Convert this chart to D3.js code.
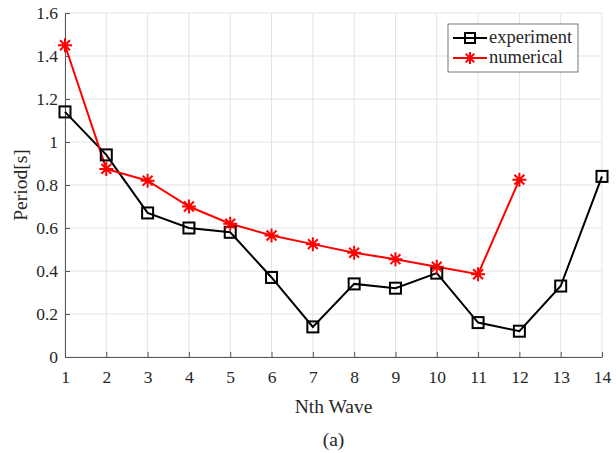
<!DOCTYPE html>
<html>
<head>
<meta charset="utf-8">
<script src="https://cdn.jsdelivr.net/npm/d3@7"></script>
<style>
  html, body { margin: 0; padding: 0; background: #fff; }
  svg text { font-family: "Liberation Serif", "Times New Roman", serif; fill: #262626; }
</style>
</head>
<body>
<svg id="chart" width="616" height="453"></svg>
<script>
// Wave index and measured / simulated periods
const waves = [1, 2, 3, 4, 5, 6, 7, 8, 9, 10, 11, 12, 13, 14];
const experiment = [1.14, 0.94, 0.67, 0.60, 0.58, 0.37, 0.14, 0.34, 0.32, 0.39, 0.16, 0.12, 0.33, 0.84];
const numerical = [1.45, 0.875, 0.82, 0.70, 0.62, 0.565, 0.525, 0.485, 0.455, 0.42, 0.385, 0.825];
const yTicks = [0, 0.2, 0.4, 0.6, 0.8, 1, 1.2, 1.4, 1.6];
const seriesNames = ["experiment", "numerical"];

const svg = d3.select("#chart");
const margin = { left: 65, right: 14, top: 13, bottom: 96 };
const W = 616, H = 453;
const x = d3.scaleLinear().domain([1, 14]).range([margin.left, W - margin.right]);
const y = d3.scaleLinear().domain([0, 1.6]).range([H - margin.bottom, margin.top]);

// grid
const grid = svg.append("g");
grid.selectAll("line.v").data(waves).join("line")
  .attr("x1", d => x(d)).attr("x2", d => x(d))
  .attr("y1", y(0)).attr("y2", y(1.6))
  .attr("stroke", "#e3e3e3").attr("stroke-width", 1);
grid.selectAll("line.h").data(yTicks).join("line")
  .attr("x1", x(1)).attr("x2", x(14))
  .attr("y1", d => y(d)).attr("y2", d => y(d))
  .attr("stroke", "#e3e3e3").attr("stroke-width", 1);

// axes
const xAxis = svg.append("g").attr("transform", `translate(0,${y(0)})`)
  .call(d3.axisBottom(x).tickValues(waves).tickFormat(d3.format("d")).tickSizeInner(-5).tickSizeOuter(0).tickPadding(14));
const yAxis = svg.append("g").attr("transform", `translate(${x(1)},0)`)
  .call(d3.axisLeft(y).tickValues(yTicks).tickFormat(d => String(d)).tickSizeInner(-5).tickSizeOuter(0).tickPadding(7));
[xAxis, yAxis].forEach(a => {
  a.select(".domain").attr("stroke", "#555").attr("stroke-width", 1);
  a.selectAll(".tick line").attr("stroke", "#555");
  a.selectAll(".tick text").attr("font-size", 17.5).attr("fill", "#262626")
    .style("font-family", '"Liberation Serif", serif');
});

// axis titles
svg.append("text").attr("x", (x(1) + x(14)) / 2).attr("y", 413)
  .attr("text-anchor", "middle").attr("font-size", 19.5).text("Nth Wave");
svg.append("text").attr("transform", `translate(27,${(y(0) + y(1.6)) / 2}) rotate(-90)`)
  .attr("text-anchor", "middle").attr("font-size", 19.5).text("Period[s]");
svg.append("text").attr("x", (x(1) + x(14)) / 2).attr("y", 446)
  .attr("text-anchor", "middle").attr("font-size", 19.5).text("(a)");

const line = d3.line().x((d, i) => x(waves[i])).y(d => y(d));

// square marker
function square(g, cx, cy, s) {
  g.append("rect").attr("x", cx - s / 2).attr("y", cy - s / 2).attr("width", s).attr("height", s)
    .attr("fill", "none").attr("stroke", "#000").attr("stroke-width", 2);
}
// asterisk marker (plus + cross)
function star(g, cx, cy, r) {
  const d = r * Math.SQRT1_2;
  const p = `M${cx - r},${cy}L${cx + r},${cy}M${cx},${cy - r}L${cx},${cy + r}` +
    `M${cx - d},${cy - d}L${cx + d},${cy + d}M${cx - d},${cy + d}L${cx + d},${cy - d}`;
  g.append("path").attr("d", p).attr("stroke", "#ff0000").attr("stroke-width", 2).attr("fill", "none");
}

svg.append("path").datum(experiment).attr("d", line)
  .attr("fill", "none").attr("stroke", "#000").attr("stroke-width", 2);
svg.append("path").datum(numerical).attr("d", line)
  .attr("fill", "none").attr("stroke", "#ff0000").attr("stroke-width", 2);

const mk = svg.append("g");
experiment.forEach((v, i) => square(mk, x(waves[i]), y(v), 11));
numerical.forEach((v, i) => star(mk, x(waves[i]), y(v), 7));

// legend
const lg = svg.append("g").attr("transform", "translate(448,24)");
lg.append("rect").attr("width", 130).attr("height", 48).attr("fill", "#fff")
  .attr("stroke", "#555").attr("stroke-width", 0.8);
const rows = [14, 34];
lg.append("line").attr("x1", 5).attr("x2", 39).attr("y1", rows[0]).attr("y2", rows[0])
  .attr("stroke", "#000").attr("stroke-width", 2);
square(lg, 22, rows[0], 10);
lg.append("line").attr("x1", 5).attr("x2", 39).attr("y1", rows[1]).attr("y2", rows[1])
  .attr("stroke", "#ff0000").attr("stroke-width", 2);
star(lg, 22, rows[1], 6);
seriesNames.forEach((n, i) => {
  lg.append("text").attr("x", 41).attr("y", rows[i] + 5).attr("font-size", 18.5).attr("fill", "#000").text(n);
});
</script>
</body>
</html>
